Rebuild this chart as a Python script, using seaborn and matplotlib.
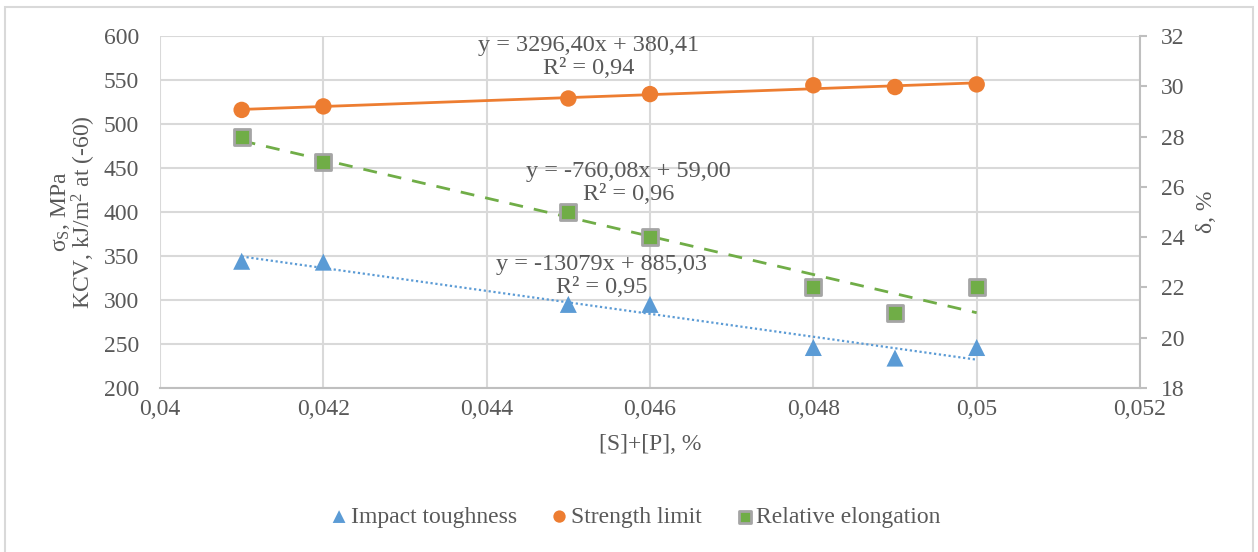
import numpy as np
import pandas as pd
import matplotlib
matplotlib.use('Agg')
import matplotlib.pyplot as plt
from matplotlib.ticker import FuncFormatter, MultipleLocator
from matplotlib.patches import Rectangle
import seaborn as sns

# Data
sp = [0.041, 0.042, 0.045, 0.046, 0.048, 0.049, 0.05]
impact = [344, 343, 295, 295, 246, 234, 246]
strength = [516, 520, 529, 534, 544, 542, 545]
elongation = [28, 27, 25, 24, 22, 21, 22]

eq_strength = "y = 3296,40x + 380,41\nR² = 0,94"
eq_elong = "y = -760,08x + 59,00\nR² = 0,96"
eq_impact = "y = -13079x + 885,03\nR² = 0,95"

df = pd.DataFrame({'sp': sp, 'impact': impact, 'strength': strength,
                   'elongation': elongation})

sns.set_style("white")
plt.rcParams['font.family'] = ['Liberation Serif', 'DejaVu Serif']
plt.rcParams['mathtext.fontset'] = 'custom'
plt.rcParams['mathtext.rm'] = 'Liberation Serif'
plt.rcParams['mathtext.it'] = 'Liberation Serif:italic'

txt = '#595959'
grid_c = '#D9D9D9'
blue = '#5B9BD5'
orange = '#ED7D31'
green = '#70AD47'
fs = 17

fig = plt.figure(figsize=(12.58, 5.52), dpi=100)
fig.patches.append(Rectangle((5 / 1258, -0.05), 1248 / 1258, 1 + 0.05 - 7 / 552,
                             transform=fig.transFigure, fill=False,
                             edgecolor='#D9D9D9', linewidth=1.5))

ax = fig.add_axes([160 / 1258, 1 - 388 / 552, 980 / 1258, 352 / 552])
ax2 = ax.twinx()

# trendlines
sns.regplot(data=df, x='sp', y='impact', ax=ax, scatter=False, ci=None,
            truncate=True, line_kws=dict(color=blue, lw=1.6, ls=(0, (1, 1.2))))
sns.regplot(data=df, x='sp', y='strength', ax=ax, scatter=False, ci=None,
            truncate=True, line_kws=dict(color=orange, lw=2))
sns.regplot(data=df, x='sp', y='elongation', ax=ax2, scatter=False, ci=None,
            truncate=True, line_kws=dict(color=green, lw=2, ls=(0, (5, 4))))

# points
sns.scatterplot(data=df, x='sp', y='impact', ax=ax, marker='^', s=150,
                color=blue, edgecolor='none', label='Impact toughness', zorder=4)
sns.scatterplot(data=df, x='sp', y='strength', ax=ax, marker='o', s=140,
                color=orange, edgecolor='none', label='Strength limit', zorder=4)
sns.scatterplot(data=df, x='sp', y='elongation', ax=ax2, marker='s', s=130,
                color=green, edgecolor='#A5A5A5', linewidth=2,
                label='Relative elongation', zorder=4)

ax.set_xlim(0.04, 0.052)
ax.set_ylim(200, 600)
ax2.set_ylim(18, 32)
ax.xaxis.set_major_locator(MultipleLocator(0.002))
ax.yaxis.set_major_locator(MultipleLocator(50))
ax2.yaxis.set_major_locator(MultipleLocator(2))
ax.xaxis.set_major_formatter(FuncFormatter(lambda v, p: f"{v:.3f}".rstrip('0').replace('.', ',')))

ax.grid(True, color=grid_c, lw=1.5)
ax.set_axisbelow(True)
for s in ['top', 'left', 'right']:
    ax.spines[s].set_visible(False)
ax.spines['bottom'].set_color('#BFBFBF')
ax.spines['bottom'].set_linewidth(1.5)
for s in ['top', 'left', 'bottom']:
    ax2.spines[s].set_visible(False)
ax2.spines['right'].set_color('#BFBFBF')
ax2.spines['right'].set_linewidth(1.5)

ax.tick_params(axis='y', length=0, labelsize=fs, labelcolor=txt, pad=15)
ax.tick_params(axis='x', length=0, labelsize=fs, labelcolor=txt, pad=8)
ax2.tick_params(axis='y', length=5, width=1.5, color='#BFBFBF',
                labelsize=fs, labelcolor=txt, pad=10)

ax.set_xlabel('[S]+[P], %', fontsize=fs, color=txt, labelpad=10)
ax.set_ylabel('σ$_\\mathrm{S}$, MPa\nKCV, kJ/m$^2$ at (-60)', fontsize=fs,
              color=txt, labelpad=4, linespacing=0.92)
ax2.set_ylabel('δ, %', fontsize=fs, color=txt, labelpad=8)

ax.text(0.437, 0.94, eq_strength, transform=ax.transAxes, ha='center',
        va='center', fontsize=17.5, color=txt, linespacing=1.1)
ax.text(0.478, 0.582, eq_elong, transform=ax.transAxes, ha='center',
        va='center', fontsize=17.5, color=txt, linespacing=1.1)
ax.text(0.451, 0.318, eq_impact, transform=ax.transAxes, ha='center',
        va='center', fontsize=17.5, color=txt, linespacing=1.1)

h1, l1 = ax.get_legend_handles_labels()
h2, l2 = ax2.get_legend_handles_labels()
ax.get_legend().remove()
ax2.get_legend().remove()
fig.legend(h1 + h2, l1 + l2, loc='center', bbox_to_anchor=(634 / 1258, 1 - 517 / 552),
           ncol=3, frameon=False, fontsize=fs, labelcolor=txt, markerscale=0.75,
           handletextpad=0.0, columnspacing=1.3, handlelength=1.0)

fig.savefig('out.png', dpi=100)
